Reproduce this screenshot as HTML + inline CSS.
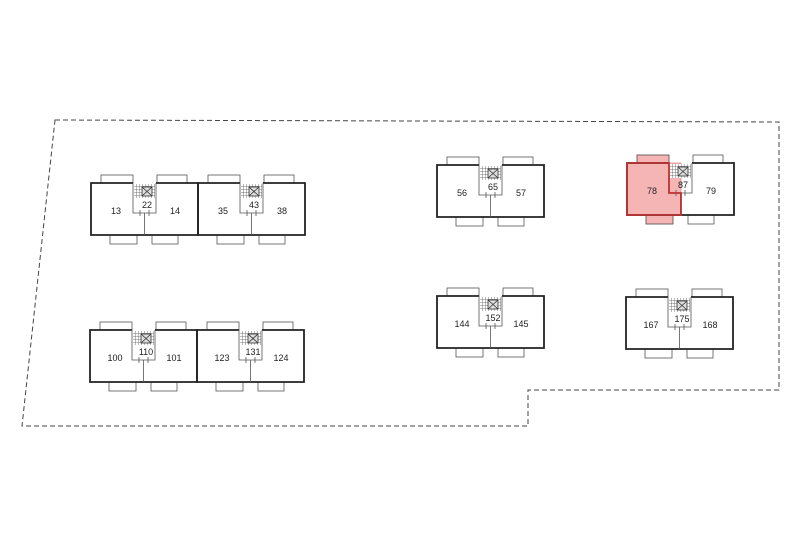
<!DOCTYPE html>
<html><head><style>html,body{margin:0;padding:0;background:#fff;}svg{display:block}</style></head>
<body>
<svg width="800" height="533" viewBox="0 0 800 533" xmlns="http://www.w3.org/2000/svg" font-family="Liberation Sans, sans-serif">
<defs>
<pattern id="h" width="3" height="3" patternUnits="userSpaceOnUse"><rect width="3" height="3" fill="#fff"/><path d="M0 0H3M0 0V3" stroke="#555" stroke-width="0.8"/></pattern>
<g id="m">
 <rect x="10" y="-8" width="32" height="8" fill="none" stroke="#555" stroke-width="0.8"/>
 <rect x="66" y="-8" width="30" height="8" fill="none" stroke="#555" stroke-width="0.8"/>
 <rect x="19" y="52" width="27" height="9" fill="none" stroke="#555" stroke-width="0.8"/>
 <rect x="61" y="52" width="26" height="9" fill="none" stroke="#555" stroke-width="0.8"/>
 <path d="M42 0H0V52H107V0H65" fill="none" stroke="#222" stroke-width="1.8"/>
 <path d="M42 0V30H65V0" fill="none" stroke="#555" stroke-width="0.8"/>
 <rect x="43" y="1" width="21" height="14" fill="url(#h)"/>
 <rect x="51" y="4" width="10" height="9" fill="#ddd" stroke="#333" stroke-width="0.8"/>
 <path d="M51 4L61 13M61 4L51 13" stroke="#333" stroke-width="0.8"/>
 <path d="M53.5 30V52M49 27V33M58 27V33" stroke="#555" stroke-width="0.8"/>
</g>
</defs>
<path d="M55 120L779 122V390H528V426H22Z" fill="none" stroke="#444" stroke-width="1" stroke-dasharray="5,3"/>
<g font-size="9" fill="#222" text-anchor="middle">
<g transform="translate(91,183)"><use href="#m"/><text x="25" y="31">13</text><text x="56" y="25">22</text><text x="84" y="31">14</text></g>
<g transform="translate(198,183)"><use href="#m"/><text x="25" y="31">35</text><text x="56" y="25">43</text><text x="84" y="31">38</text></g>
<g transform="translate(90,330)"><use href="#m"/><text x="25" y="31">100</text><text x="56" y="25">110</text><text x="84" y="31">101</text></g>
<g transform="translate(197,330)"><use href="#m"/><text x="25" y="31">123</text><text x="56" y="25">131</text><text x="84" y="31">124</text></g>
<g transform="translate(437,165)"><use href="#m"/><text x="25" y="31">56</text><text x="56" y="25">65</text><text x="84" y="31">57</text></g>
<g transform="translate(627,163)">
 <path d="M10 -8H42V0H54V52H46V61H19V52H0V0H10Z" fill="#f5b5b5" stroke="#d88" stroke-width="0.8"/>
 <use href="#m"/>
 <path d="M0 0H42V30H54V52H0Z" fill="none" stroke="#b33" stroke-width="1.8"/>
 <text x="25" y="31">78</text><text x="56" y="25">87</text><text x="84" y="31">79</text></g>
<g transform="translate(437,296)"><use href="#m"/><text x="25" y="31">144</text><text x="56" y="25">152</text><text x="84" y="31">145</text></g>
<g transform="translate(626,297)"><use href="#m"/><text x="25" y="31">167</text><text x="56" y="25">175</text><text x="84" y="31">168</text></g>
</g>
</svg>
</body></html>
